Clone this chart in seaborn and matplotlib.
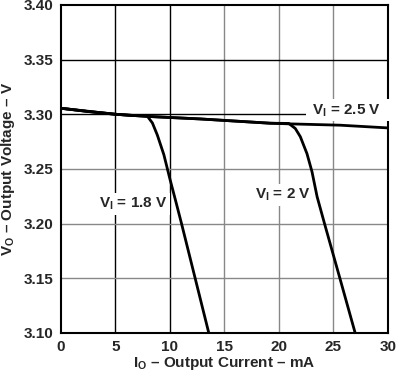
import matplotlib
matplotlib.use("Agg")
import matplotlib.pyplot as plt
import seaborn as sns
import pandas as pd

# Curva comum (VI = 2.5 V) e quedas para VI = 1.8 V e VI = 2 V.
io_25 = [0, 2.5, 5, 6.4, 8, 12.8, 19.2, 21, 25.6, 30]
vo_25 = [3.3055, 3.3025, 3.300, 3.299, 3.298, 3.2957, 3.2918, 3.2912, 3.290, 3.2875]

io_18 = [0, 2.5, 5, 6.4, 7.9, 8.4, 8.85, 9.45, 10.0, 10.5, 11.07, 12.32, 13.57]
vo_18 = [3.3055, 3.3025, 3.300, 3.299, 3.2987, 3.292, 3.281, 3.263, 3.241, 3.222, 3.20, 3.15, 3.10]

io_20 = [0, 5, 8, 12.8, 19.2, 20.9, 21.5, 21.96, 22.57, 23.03, 23.5, 24.18, 25.59, 26.99]
vo_20 = [3.3055, 3.300, 3.298, 3.2957, 3.2918, 3.2916, 3.287, 3.2795, 3.264, 3.2475, 3.2246, 3.20, 3.15, 3.10]

x_ticks = [0, 5, 10, 15, 20, 25, 30]
y_ticks = [3.10, 3.15, 3.20, 3.25, 3.30, 3.35, 3.40]

sns.set_style("white")
plt.rcParams['font.family'] = ['Liberation Sans', 'DejaVu Sans']
plt.rcParams['font.weight'] = 'bold'
plt.rcParams['mathtext.fontset'] = 'custom'
plt.rcParams['mathtext.rm'] = 'Liberation Sans:bold'
plt.rcParams['mathtext.it'] = 'Liberation Sans:bold'
plt.rcParams['mathtext.bf'] = 'Liberation Sans:bold'

fig = plt.figure(figsize=(4, 3.75), dpi=100)
ax = fig.add_axes([0.152, 0.112, 0.818, 0.875])

# Grade: linhas pretas e cinzas como no original.
for x in x_ticks[1:-1]:
    ax.axvline(x, color='black' if x <= 10 else '#888888', lw=1, zorder=1)
for y in y_ticks[1:-1]:
    ax.axhline(y, color='black' if y >= 3.30 else '#888888', lw=1, zorder=1)

curvas = pd.concat([
    pd.DataFrame({'Io': io_25, 'Vo': vo_25, 'VI': '2.5'}),
    pd.DataFrame({'Io': io_18, 'Vo': vo_18, 'VI': '1.8'}),
    pd.DataFrame({'Io': io_20, 'Vo': vo_20, 'VI': '2'}),
])
for vi, d in curvas.groupby('VI', sort=False):
    sns.lineplot(data=d, x='Io', y='Vo', ax=ax, color='black', lw=2,
                 sort=False, estimator=None, zorder=4)

caixa = dict(facecolor='white', edgecolor='none', pad=2)
ax.text(22.7, 3.3035, r' V$_{\rm I}$ = 2.5 V   ', fontsize=11, fontweight='bold',
        va='center', ha='left', bbox=caixa, zorder=3)
ax.text(3.5, 3.218, r'V$_{\rm I}$ = 1.8 V', fontsize=11, fontweight='bold',
        va='center', ha='left', bbox=caixa, zorder=3)
ax.text(17.8, 3.2262, r'V$_{\rm I}$ = 2 V', fontsize=11, fontweight='bold',
        va='center', ha='left', bbox=caixa, zorder=3)

ax.set_xlim(0, 30)
ax.set_ylim(3.10, 3.40)
ax.set_xticks(x_ticks)
ax.set_yticks(y_ticks)
ax.set_xticklabels([str(x) for x in x_ticks])
ax.set_yticklabels([f'{y:.2f}' for y in y_ticks])
ax.tick_params(length=0, labelsize=11, pad=5)

ax.set_xlabel(r'I$_{\rm O}$ – Output Current – mA', fontsize=11, fontweight='bold', labelpad=1)
ax.set_ylabel(r'V$_{\rm O}$ – Output Voltage – V', fontsize=11, fontweight='bold', labelpad=5)

for s in ax.spines.values():
    s.set_color('black')
    s.set_linewidth(1.5)

plt.savefig('out.png', dpi=100)
